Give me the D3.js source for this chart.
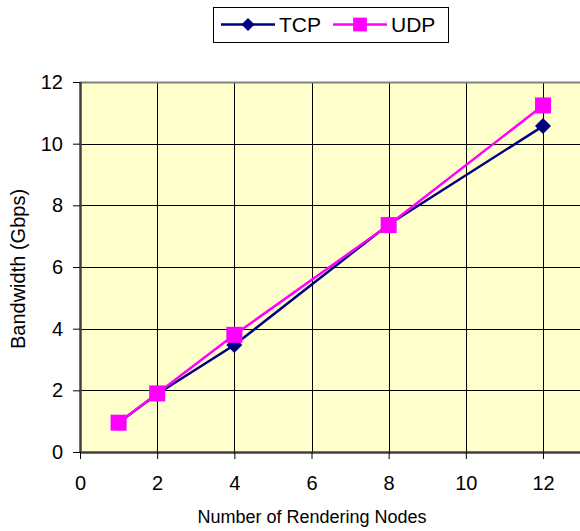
<!DOCTYPE html>
<html>
<head>
<meta charset="utf-8">
<script src="https://cdn.jsdelivr.net/npm/d3@7"></script>
<style>
  html, body { margin: 0; padding: 0; background: #fff; }
  svg { display: block; font-family: "Liberation Sans", Arial, sans-serif; }
</style>
</head>
<body>
<svg id="chart" width="580" height="531"></svg>
<script>
// Rendering nodes on the x axis, bandwidth in Gbps per protocol
const nodes = [1, 2, 4, 8, 12];
const tcp = [0.95, 1.88, 3.47, 7.38, 10.57];
const udp = [0.95, 1.9, 3.8, 7.36, 11.24];
const xTicks = [0, 2, 4, 6, 8, 10, 12];
const yTicks = [0, 2, 4, 6, 8, 10, 12];
const seriesNames = ["TCP", "UDP"];

const svg = d3.select("#chart");
const plotLeft = 80, plotTop = 82, plotBottom = 452;

const x = d3.scaleLinear().domain([0, 12]).range([plotLeft, 543]);
const y = d3.scaleLinear().domain([0, 12]).range([plotBottom, plotTop]);

// plot background (runs off the right edge)
svg.append("rect")
  .attr("x", plotLeft).attr("y", plotTop)
  .attr("width", 580 - plotLeft).attr("height", plotBottom - plotTop)
  .attr("fill", "#FFFFCC");

// grid lines
const grid = svg.append("g");
grid.selectAll("line.h").data(yTicks.filter(d => d > 0 && d < 12)).join("line")
  .attr("x1", plotLeft).attr("x2", 580)
  .attr("y1", d => Math.round(y(d)) + 0.5).attr("y2", d => Math.round(y(d)) + 0.5)
  .attr("stroke", "#000").attr("stroke-width", 1);
grid.selectAll("line.v").data(xTicks.filter(d => d > 0)).join("line")
  .attr("y1", plotTop).attr("y2", plotBottom)
  .attr("x1", d => Math.round(x(d)) + 0.5).attr("x2", d => Math.round(x(d)) + 0.5)
  .attr("stroke", "#000").attr("stroke-width", 1);

// top border
svg.append("line").attr("x1", plotLeft).attr("x2", 580)
  .attr("y1", plotTop + 0.5).attr("y2", plotTop + 0.5)
  .attr("stroke", "#808080").attr("stroke-width", 2);

// axes
const yAxis = d3.axisLeft(y).tickValues(yTicks).tickSize(7).tickPadding(10).tickFormat(d3.format("d"));
const xAxis = d3.axisBottom(x).tickValues(xTicks).tickSize(7).tickPadding(17).tickFormat(d3.format("d"));

const gy = svg.append("g").attr("transform", `translate(${plotLeft},0)`).call(yAxis);
const gx = svg.append("g").attr("transform", `translate(0,${plotBottom})`).call(xAxis);
[gx, gy].forEach(g => {
  g.select(".domain").attr("stroke", "#404040").attr("stroke-width", 2.5);
  g.selectAll(".tick line").attr("stroke", "#000").attr("stroke-width", 1);
  g.selectAll("text").attr("font-size", 20).attr("fill", "#000")
    .attr("font-family", "'Liberation Sans', Arial, sans-serif");
});
gx.select(".domain").attr("d", `M${plotLeft},0.5H580`);
gy.select(".domain").attr("d", `M0.5,${plotTop}V${plotBottom}`);

// series
const line = d3.line().x(d => x(d[0])).y(d => y(d[1]));
const tcpPts = nodes.map((n, i) => [n, tcp[i]]);
const udpPts = nodes.map((n, i) => [n, udp[i]]);

svg.append("path").datum(tcpPts).attr("d", line)
  .attr("fill", "none").attr("stroke", "#000080").attr("stroke-width", 2.5);
svg.append("path").datum(udpPts).attr("d", line)
  .attr("fill", "none").attr("stroke", "#FF00FF").attr("stroke-width", 2.5);

const diamond = d3.symbol().type(d3.symbolDiamond2).size(163);
const square = d3.symbol().type(d3.symbolSquare).size(256);

svg.append("g").selectAll("path").data(tcpPts).join("path")
  .attr("d", diamond)
  .attr("transform", d => `translate(${x(d[0])},${y(d[1])})`)
  .attr("fill", "#000080");
svg.append("g").selectAll("path").data(udpPts).join("path")
  .attr("d", square)
  .attr("transform", d => `translate(${x(d[0])},${y(d[1])})`)
  .attr("fill", "#FF00FF");

// axis titles
svg.append("text").attr("x", 312).attr("y", 523).attr("text-anchor", "middle")
  .attr("font-size", 18).text("Number of Rendering Nodes");
svg.append("text").attr("transform", "translate(25,269) rotate(-90)")
  .attr("text-anchor", "middle").attr("font-size", 20).text("Bandwidth (Gbps)");

// legend
const lg = svg.append("g");
lg.append("rect").attr("x", 213.5).attr("y", 7.5).attr("width", 235).attr("height", 35)
  .attr("fill", "#fff").attr("stroke", "#000").attr("stroke-width", 1);
const legendSymDiamond = d3.symbol().type(d3.symbolDiamond2).size(108);
const legendSymSquare = d3.symbol().type(d3.symbolSquare).size(190);
const legendItems = [
  { name: seriesNames[0], color: "#000080", sym: legendSymDiamond, x0: 221 },
  { name: seriesNames[1], color: "#FF00FF", sym: legendSymSquare, x0: 333 }
];
legendItems.forEach(it => {
  lg.append("line").attr("x1", it.x0).attr("x2", it.x0 + 54)
    .attr("y1", 24.5).attr("y2", 24.5).attr("stroke", it.color).attr("stroke-width", 2.5);
  lg.append("path").attr("d", it.sym).attr("fill", it.color)
    .attr("transform", `translate(${it.x0 + 27},24.5)`);
  lg.append("text").attr("x", it.x0 + 58).attr("y", 32).attr("font-size", 21).text(it.name);
});
</script>
</body>
</html>
